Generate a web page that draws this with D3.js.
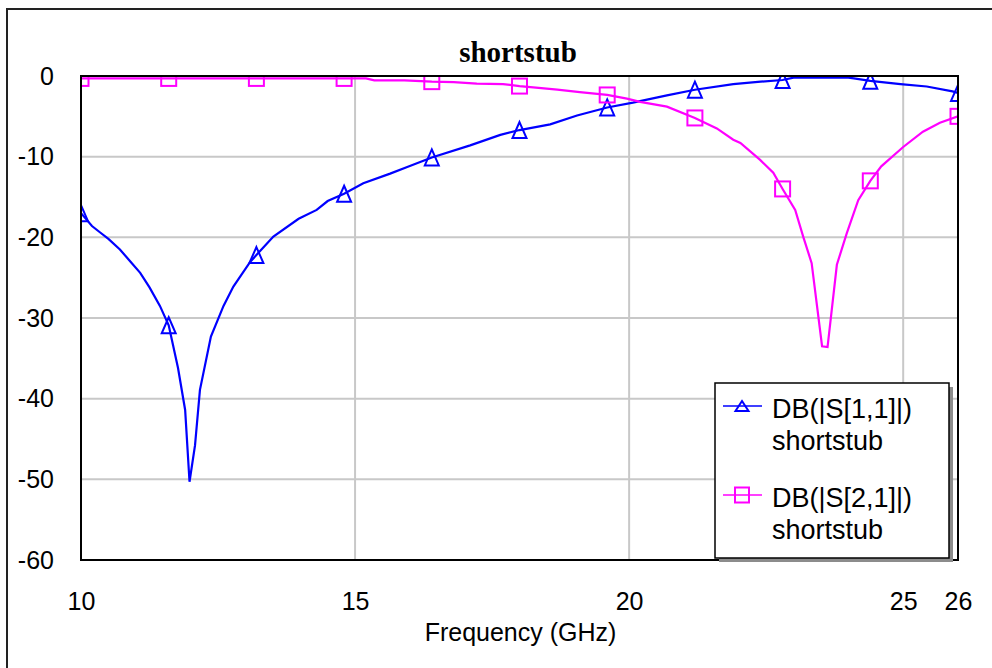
<!DOCTYPE html>
<html>
<head>
<meta charset="utf-8">
<script src="https://cdn.jsdelivr.net/npm/d3@7"></script>
<style>
  body { margin: 0; background: #fff; }
  svg { display: block; }
  .tick text { font-family: Arial, "Liberation Sans", sans-serif; font-size: 25px; fill: #000; }
</style>
</head>
<body>
<div id="graphic"></div>
<script>
// frequency points (GHz) and dB values
var s11Freq = [10, 10.2, 10.35, 10.5, 10.71, 10.9, 11.08, 11.25, 11.44, 11.6, 11.77, 11.9, 11.98, 12.08, 12.17, 12.37, 12.6, 12.78, 13.08, 13.2,
  13.51, 13.97, 14.3, 14.5, 14.8, 15.15, 15.64, 15.94, 16.4, 17.1, 17.65, 18, 18.56, 19.05, 19.6, 20.07, 20.69, 21.2, 21.9, 22.4, 22.8,
  23.0, 23.5, 24.0, 24.1, 24.4, 24.95, 25.43, 25.9, 26];
var s11Db = [-17.0, -18.6, -19.4, -20.2, -21.5, -23.0, -24.4, -26.2, -28.5, -30.9, -36.2, -41.4, -50.3, -45.8, -38.9, -32.3, -28.5, -26.1, -23.1, -22.2,
  -19.9, -17.7, -16.6, -15.5, -14.6, -13.3, -12.1, -11.3, -10.1, -8.6, -7.3, -6.7, -6.0, -4.9, -3.9, -3.3, -2.4, -1.7, -1.0, -0.7, -0.5,
  -0.2, -0.2, -0.2, -0.3, -0.6, -1.0, -1.3, -1.9, -2.1];

var s21Freq = [10, 11.6, 13.2, 14.8, 15.2, 15.35, 15.9, 16.4, 16.8, 17.22, 17.7, 18, 18.3, 18.69, 19.1, 19.6, 19.96, 20.2, 20.69, 21.2, 21.6, 21.9,
  22.03, 22.39, 22.63, 22.8, 23.03, 23.18, 23.33, 23.52, 23.62, 23.79, 23.97, 24.18, 24.4, 24.6, 25.0, 25.36, 25.67, 26];
var s21Db = [-0.3, -0.3, -0.3, -0.3, -0.3, -0.55, -0.55, -0.7, -0.75, -0.95, -1.0, -1.25, -1.45, -1.7, -2.0, -2.35, -2.8, -3.2, -3.8, -5.2, -6.5, -7.9,
  -8.3, -10.4, -12.0, -14.0, -16.6, -20.0, -23.2, -33.5, -33.6, -23.4, -19.5, -15.4, -13.0, -11.2, -8.8, -6.9, -5.8, -5.0];

var markerFreq = [10, 11.6, 13.2, 14.8, 16.4, 18, 19.6, 21.2, 22.8, 24.4, 26];
var xTicks = [10, 15, 20, 25, 26];
var yTicks = [0, -10, -20, -30, -40, -50, -60];

var seriesNames = ["DB(|S[1,1]|)", "DB(|S[2,1]|)"];
var seriesSub = ["shortstub", "shortstub"];
var seriesColors = ["#0000ff", "#ff00ff"];

var width = 992, height = 668;
var margin = {top: 76, right: 34, bottom: 108, left: 81};
var w = width - margin.left - margin.right;
var h = height - margin.top - margin.bottom;

var svg = d3.select("#graphic").append("svg")
	.attr("width", width)
	.attr("height", height);

// outer frame
svg.append("rect")
	.attr("x", 7).attr("y", 9)
	.attr("width", 1000).attr("height", 700)
	.attr("fill", "none").attr("stroke", "#222").attr("stroke-width", 2);

svg.append("text")
	.attr("x", 518).attr("y", 62)
	.attr("text-anchor", "middle")
	.style("font-family", "'Liberation Serif', 'Times New Roman', serif")
	.style("font-weight", "bold")
	.style("font-size", "29px")
	.text("shortstub");

var x = d3.scaleLinear().domain([10, 26]).range([0, w]);
var y = d3.scaleLinear().domain([-60, 0]).range([h, 0]);

var g = svg.append("g").attr("transform", "translate(" + margin.left + "," + margin.top + ")");

g.append("defs").append("clipPath").attr("id", "plotClip")
	.append("rect").attr("width", w).attr("height", h);

// grid
g.selectAll(".vgrid").data([15, 20, 25]).enter().append("line")
	.attr("x1", function(d) { return x(d); }).attr("x2", function(d) { return x(d); })
	.attr("y1", 0).attr("y2", h)
	.attr("stroke", "#c8c8c8").attr("stroke-width", 2);
g.selectAll(".hgrid").data([-10, -20, -30, -40, -50]).enter().append("line")
	.attr("x1", 0).attr("x2", w)
	.attr("y1", function(d) { return y(d); }).attr("y2", function(d) { return y(d); })
	.attr("stroke", "#c8c8c8").attr("stroke-width", 2);

// axes (plain hyphen for negatives, like the original)
var plain = function(d) { return String(d); };
var xAxis = g.append("g").attr("transform", "translate(0," + h + ")")
	.call(d3.axisBottom(x).tickValues(xTicks).tickSize(0).tickPadding(32).tickFormat(plain));
var yAxis = g.append("g")
	.call(d3.axisLeft(y).tickValues(yTicks).tickSize(0).tickPadding(27).tickFormat(plain));
xAxis.select(".domain").remove();
yAxis.select(".domain").remove();

g.append("text")
	.attr("x", w / 2 + 1).attr("y", h + 81)
	.attr("text-anchor", "middle")
	.style("font-family", "Arial, 'Liberation Sans', sans-serif")
	.style("font-size", "25px")
	.text("Frequency (GHz)");

var line = d3.line()
	.x(function(d) { return x(d[0]); })
	.y(function(d) { return y(d[1]); });

var s11 = d3.zip(s11Freq, s11Db);
var s21 = d3.zip(s21Freq, s21Db);

var plot = g.append("g").attr("clip-path", "url(#plotClip)");

plot.append("path").datum(s11).attr("d", line)
	.attr("fill", "none").attr("stroke", seriesColors[0]).attr("stroke-width", 2.2);
plot.append("path").datum(s21).attr("d", line)
	.attr("fill", "none").attr("stroke", seriesColors[1]).attr("stroke-width", 2.2);

function triPath(cx, cy, hw, hh) {
	return "M" + cx + "," + (cy - hh) + "L" + (cx + hw) + "," + (cy + hh) + "L" + (cx - hw) + "," + (cy + hh) + "Z";
}

plot.selectAll(".tri").data(s11.filter(function(d) { return markerFreq.indexOf(d[0]) >= 0; }))
	.enter().append("path")
	.attr("d", function(d) { return triPath(x(d[0]), y(d[1]), 7, 8); })
	.attr("fill", "none").attr("stroke", seriesColors[0]).attr("stroke-width", 2);

plot.selectAll(".sq").data(s21.filter(function(d) { return markerFreq.indexOf(d[0]) >= 0; }))
	.enter().append("rect")
	.attr("x", function(d) { return x(d[0]) - 7.5; })
	.attr("y", function(d) { return y(d[1]) - 7.5; })
	.attr("width", 15).attr("height", 15)
	.attr("fill", "none").attr("stroke", seriesColors[1]).attr("stroke-width", 2);

// plot frame
g.append("rect").attr("width", w).attr("height", h)
	.attr("fill", "none").attr("stroke", "#000").attr("stroke-width", 2);

// legend
var lg = svg.append("g").attr("transform", "translate(715,383)");
lg.append("rect").attr("x", 4).attr("y", 4).attr("width", 234).attr("height", 175).attr("fill", "#8c8c8c");
lg.append("rect").attr("width", 234).attr("height", 175)
	.attr("fill", "#fff").attr("stroke", "#000").attr("stroke-width", 1.5);

var entry = lg.selectAll(".entry").data(seriesNames).enter().append("g")
	.attr("transform", function(d, i) { return "translate(0," + (i * 89) + ")"; });
entry.append("line")
	.attr("x1", 8).attr("x2", 47).attr("y1", 23).attr("y2", 23)
	.attr("stroke", function(d, i) { return seriesColors[i]; }).attr("stroke-width", 1.5);
entry.each(function(d, i) {
	var e = d3.select(this);
	if (i === 0) {
		e.append("path").attr("d", triPath(27, 23, 6.5, 5))
			.attr("fill", "none").attr("stroke", seriesColors[0]).attr("stroke-width", 2);
	} else {
		e.append("rect").attr("x", 20).attr("y", 15.5).attr("width", 14).attr("height", 15)
			.attr("fill", "none").attr("stroke", seriesColors[1]).attr("stroke-width", 2);
	}
});
entry.append("text").attr("x", 57).attr("y", 35)
	.style("font-family", "Arial, 'Liberation Sans', sans-serif").style("font-size", "27px")
	.text(function(d) { return d; });
entry.append("text").attr("x", 57).attr("y", 67)
	.style("font-family", "Arial, 'Liberation Sans', sans-serif").style("font-size", "27px")
	.text(function(d, i) { return seriesSub[i]; });
</script>
</body>
</html>
